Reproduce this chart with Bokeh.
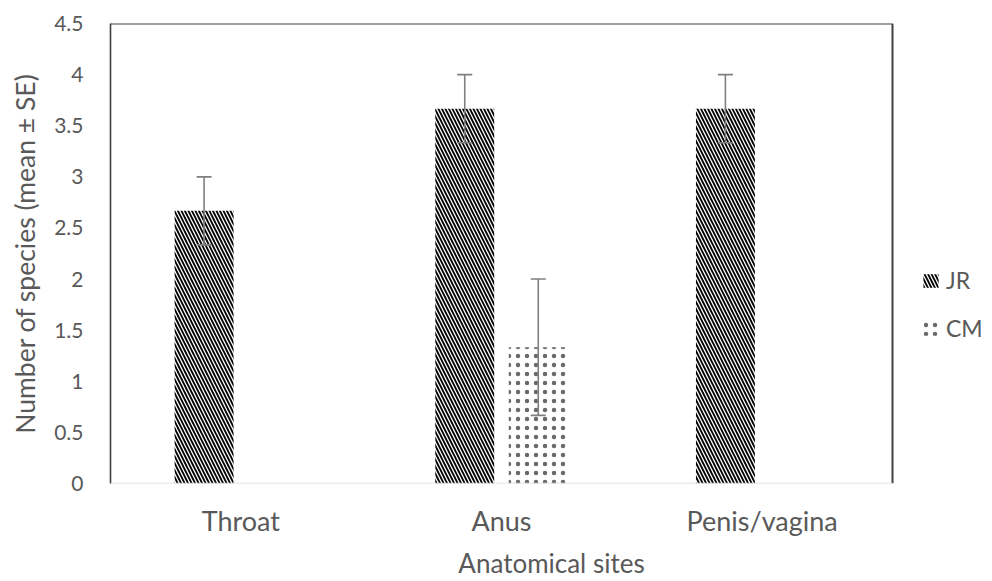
from bokeh.plotting import figure
from bokeh.models import (ColumnDataSource, Range1d, FixedTicker,
                          Legend, LegendItem, Arrow)
from bokeh.transform import dodge
from bokeh.embed import file_html
from bokeh.resources import INLINE

# ---- data ----
categories = ["Throat", "Anus", "Penis/vagina"]
series_names = ["JR", "CM"]
jr_mean = [2.667, 3.667, 3.667]
jr_se = [0.333, 0.333, 0.333]
cm_mean = [0.0, 1.333, 0.0]
cm_se = [0.0, 0.667, 0.0]
y_ticks = [0, 0.5, 1, 1.5, 2, 2.5, 3, 3.5, 4, 4.5]
y_tick_labels = ["0", "0.5", "1", "1.5", "2", "2.5", "3", "3.5", "4", "4.5"]
x_title = "Anatomical sites"
y_title = "Number of species (mean \u00b1 SE)"

FONT = "Lato"
TXT = "#595959"
OFF = 0.141
BW = 0.226
NCAT = len(categories)
FRAME_L, FRAME_R, W = 110, 892, 992
X_END = NCAT * (W - FRAME_L) / (FRAME_R - FRAME_L)   # room on the right for the legend

# category centres on a numeric axis (one unit per category)
x_centres = [i + 0.5 for i in range(NCAT)]

p = figure(x_range=Range1d(0, X_END), y_range=Range1d(0, 4.5),
           width=W, height=581, output_backend="svg", toolbar_location=None,
           min_border_left=FRAME_L, min_border_right=0, min_border_top=23,
           min_border_bottom=97)
p.outline_line_color = None
p.xgrid.grid_line_color = None
p.ygrid.grid_line_color = None
p.background_fill_color = "white"
p.border_fill_color = "white"

src = ColumnDataSource(dict(xc=x_centres, cats=categories, jr=jr_mean, cm=cm_mean))

r_jr = p.vbar(x=dodge("xc", -OFF), top="jr", width=BW, source=src,
              fill_color="white", line_color=None, hatch_pattern="\\",
              hatch_color="black", hatch_weight=1.8, hatch_scale=7)
r_cm = p.vbar(x=dodge("xc", OFF), top="cm", width=BW, source=src,
              fill_color="white", line_color=None, hatch_pattern=".",
              hatch_color="#6a6a6a", hatch_weight=0.5, hatch_scale=9)

# error bars
for off, means, ses in ((-OFF, jr_mean, jr_se), (OFF, cm_mean, cm_se)):
    xc = [x for x, m in zip(x_centres, means) if m > 0]
    lo = [m - s for m, s in zip(means, ses) if m > 0]
    up = [m + s for m, s in zip(means, ses) if m > 0]
    s = ColumnDataSource(dict(xc=xc, low=lo, up=up))
    xx = dodge("xc", off)
    p.segment(x0=xx, y0="low", x1=xx, y1="up", source=s,
              line_color="#7f7f7f", line_width=1.6)
    p.scatter(x=xx, y="up", source=s, marker="dash", size=15,
              line_color="#7f7f7f", line_width=1.6)
    p.scatter(x=xx, y="low", source=s, marker="dash", size=15,
              line_color="#7f7f7f", line_width=1.6)

# frame lines (top / right / bottom)
p.add_layout(Arrow(x_start=0, y_start=4.5, x_end=NCAT, y_end=4.5, end=None,
                   line_color="#404040", line_width=2))
p.add_layout(Arrow(x_start=NCAT, y_start=0, x_end=NCAT, y_end=4.5, end=None,
                   line_color="#404040", line_width=2))
p.add_layout(Arrow(x_start=0, y_start=0, x_end=NCAT, y_end=0, end=None,
                   line_color="#d9d9d9", line_width=1.6))

# axes
yax = p.yaxis[0]
yax.ticker = FixedTicker(ticks=y_ticks)
yax.major_label_overrides = {t: l for t, l in zip(y_ticks, y_tick_labels)}
yax.major_tick_line_color = None
yax.minor_tick_line_color = None
yax.major_tick_out = 0
yax.major_tick_in = 0
yax.minor_tick_out = 0
yax.axis_line_color = "#404040"
yax.axis_line_width = 1.6
yax.major_label_text_font = FONT
yax.major_label_text_font_size = "21px"
yax.major_label_text_color = TXT
yax.major_label_standoff = 27
yax.axis_label = y_title
yax.axis_label_text_font = FONT
yax.axis_label_text_font_size = "26.5px"
yax.axis_label_text_font_style = "normal"
yax.axis_label_text_color = TXT
yax.axis_label_standoff = 10

xax = p.xaxis[0]
xax.ticker = FixedTicker(ticks=x_centres)
xax.major_label_overrides = {x: c for x, c in zip(x_centres, categories)}
xax.major_tick_line_color = None
xax.minor_tick_line_color = None
xax.major_tick_out = 0
xax.major_tick_in = 0
xax.minor_tick_out = 0
xax.axis_line_color = None
xax.major_label_text_font = FONT
xax.major_label_text_font_size = "27px"
xax.major_label_text_color = TXT
xax.major_label_standoff = 20
xax.axis_label = x_title
xax.axis_label_text_font = FONT
xax.axis_label_text_font_size = "26px"
xax.axis_label_text_font_style = "normal"
xax.axis_label_text_color = TXT
xax.axis_label_standoff = 7

legend = Legend(items=[LegendItem(label=series_names[0], renderers=[r_jr]),
                       LegendItem(label=series_names[1], renderers=[r_cm])],
                location=(811, 140), padding=0, margin=0,
                border_line_color=None, background_fill_alpha=0,
                glyph_width=19, glyph_height=17, label_height=30, spacing=18,
                label_standoff=6, label_text_font=FONT,
                label_text_font_size="23px", label_text_color=TXT)
p.add_layout(legend)

open("out.html", "w").write(file_html(p, INLINE))
